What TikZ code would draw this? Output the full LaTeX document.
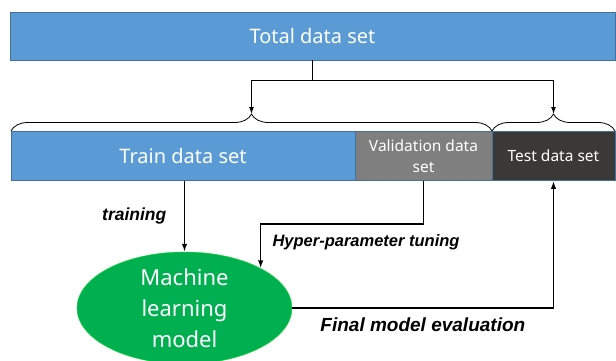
\documentclass[tikz,border=0pt]{standalone}
\usepackage{fontspec}
\setmainfont{Noto Sans}
\newfontfamily\labelfont{Liberation Sans}
\usetikzlibrary{arrows.meta,decorations.pathreplacing,shapes.geometric}

\definecolor{setblue}{HTML}{5B9BD5}
\definecolor{setedge}{HTML}{41719C}
\definecolor{valgray}{HTML}{7F7F7F}
\definecolor{testdark}{HTML}{3B3838}
\definecolor{modelgreen}{HTML}{00B050}

\begin{document}
\begin{tikzpicture}[x=1pt, y=-1pt,
        setbox/.style={rectangle, draw=setedge, line width=0.8pt, text=white, inner sep=0pt, align=center, minimum height=49pt},
        lbl/.style={font=\labelfont\fontsize{16.5}{18}\selectfont\bfseries\itshape},
        arr/.style={-{Latex[length=8pt,width=5.5pt]}, line width=1.6pt}]
        \useasboundingbox (0, 0) rectangle (616, 361);

        \node[setbox, fill=setblue, minimum width=605pt, minimum height=48pt, font=\fontsize{20}{24}\selectfont] at (312.5, 36)  (total)  {Total data set};

        \node[setbox, fill=setblue, minimum width=344pt, font=\fontsize{20}{24}\selectfont] at (183, 156)  (train)  {Train data set};
        \node[setbox, fill=valgray, minimum width=137pt, font=\fontsize{15.5}{21}\selectfont] at (423.5, 156)  (valid)  {Validation data\\set};
        \node[setbox, fill=testdark, minimum width=123pt, font=\fontsize{15.5}{21}\selectfont] at (553.5, 156)  (test)  {Test data set};

        \node[ellipse, fill=modelgreen, draw=green!60!modelgreen, text=white, minimum width=215pt, minimum height=112pt, inner sep=0pt, align=center, font=\fontsize{22}{31}\selectfont] at (184.5, 308)  (model)  {Machine\\learning\\model};

        \draw[decorate, decoration={brace, amplitude=17pt}, line width=0.8pt] (11, 131) -- (492, 131) coordinate[midway, yshift=17pt] (lefttip);
        \draw[decorate, decoration={brace, amplitude=17pt}, line width=0.8pt] (492, 131) -- (615, 131) coordinate[midway, yshift=17pt] (righttip);

        \draw[line width=1.2pt]  (total.south) -- ++(0, 20) coordinate (split);
        \draw[-{Latex[length=7pt,width=5pt]}, line width=1.2pt]  (split) -| (lefttip);
        \draw[-{Latex[length=7pt,width=5pt]}, line width=1.2pt]  (split) -| (righttip);

        \draw[arr]  (model.north |- train.south) -- node[lbl, left=14pt, font=\labelfont\fontsize{17.5}{20}\selectfont\bfseries\itshape] {training} (model.north);
        \draw[arr]  (valid.south) -- ++(0, 43) -| (model.north east);
        \node[lbl, anchor=west] at (269, 242)  (tuning)  {Hyper-parameter tuning};
        \draw[arr]  (model.east) -| node[lbl, pos=0.25, below=6pt, font=\labelfont\fontsize{19}{21}\selectfont\bfseries\itshape] {Final model evaluation} (test.south);
    \end{tikzpicture}
\end{document}
